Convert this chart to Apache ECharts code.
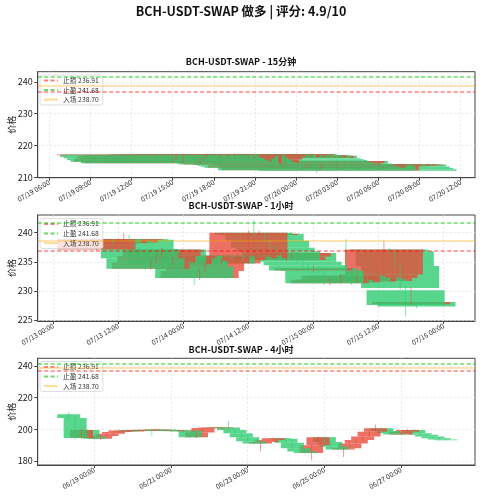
<!DOCTYPE html>
<html><head><meta charset="utf-8">
<script src="https://cdn.jsdelivr.net/npm/echarts@6/dist/echarts.min.js"></script>
<style>html,body{margin:0;padding:0;background:#fff}#c{width:482px;height:500px}</style>
</head><body><div id="c"></div><script>
// ---------- text ----------
const mainTitle = 'BCH-USDT-SWAP 做多 | 评分: 4.9/10';
const panelTitles = ['BCH-USDT-SWAP - 15分钟', 'BCH-USDT-SWAP - 1小时', 'BCH-USDT-SWAP - 4小时'];
const levelNames = ['止损 236.91', '止盈 241.68', '入场 238.70'];
const levelValues = [236.91, 241.68, 238.70];
const yAxisName = '价格';

// ---------- 15 minute candles (oldest first) ----------
const m15Start = '2024-07-19T13:45';
const m15StepHours = 0.25;
const m15Open = [216.95,217.15,216.4,216.0,215.4,214.9,215.9,216.7,214.4,216.9,216.2,215.5,214.8,214.5,215.6,216.5,217.2,216.8,217.1,216.4,217.0,216.6,217.2,216.9,217.3,216.9,216.6,216.2,216.9,216.1,216.8,216.0,215.7,215.4,215.0,214.6,214.3,214.0,214.4,215.1,214.3,213.9,213.6,213.3,213.0,213.8,214.1,213.6,212.2,213.6,214.0,213.5,214.0,213.6,214.1,213.7,214.0,213.4,212.9,212.5];
const m15Close = [217.15,216.4,216.0,215.4,214.9,215.9,216.7,214.4,216.9,216.2,215.5,214.8,214.5,215.6,216.5,217.2,216.8,217.1,216.4,217.0,216.6,217.2,216.9,217.3,216.9,216.6,216.2,216.9,216.1,216.8,216.0,215.7,215.4,215.0,214.6,214.3,214.0,214.4,215.1,214.3,213.9,213.6,213.3,213.0,213.8,214.1,213.6,212.2,213.6,214.0,213.5,214.0,213.6,214.1,213.7,214.0,213.4,212.9,212.5,212.1];
const m15High = [217.3,217.3,216.6,216.2,215.6,216.1,216.9,216.9,217.1,217.1,216.4,215.7,215.0,215.8,216.7,217.4,217.4,217.3,217.3,217.2,217.2,217.4,217.4,217.5,217.5,217.1,216.8,217.1,217.0,217.0,216.9,216.2,215.9,215.6,215.2,214.8,214.5,214.6,215.3,215.3,214.5,214.1,213.8,213.5,214.0,214.3,214.3,213.8,213.8,214.2,214.2,214.2,214.2,214.3,214.3,214.2,214.2,213.6,213.1,212.7];
const m15Low = [216.8,216.2,215.8,215.2,214.6,214.7,215.7,213.8,214.2,216.0,215.3,214.5,214.2,214.3,215.4,216.3,216.6,216.6,216.2,216.2,216.4,216.4,216.7,216.7,216.7,216.4,216.0,216.0,215.9,215.9,215.8,215.5,215.2,214.8,213.6,214.0,213.8,213.8,214.2,214.1,213.2,213.3,213.0,212.6,212.8,213.6,213.4,211.4,212.0,213.4,213.3,213.3,213.4,213.4,213.5,213.5,213.2,212.7,212.3,211.9];

// ---------- 1 hour candles ----------
const h1Start = '2024-07-13T08:00';
const h1StepHours = 1;
const h1Open = [237.1,238.9,238.2,238.6,238.3,238.8,238.9,238.8,237.2,235.6,233.8,234.9,236.0,237.1,234.6,235.6,236.0,235.2,234.2,232.2,233.4,234.8,235.9,234.7,235.3,235.9,235.6,236.1,235.6,240.0,239.6,239.8,238.6,237.4,236.8,235.3,235.9,236.5,235.0,234.4,233.5,233.9,233.5,231.3,231.9,231.5,232.6,232.2,231.6,232.3,232.0,231.7,232.2,232.8,237.1,236.8,234.3,230.1,227.7,228.1];
const h1Close = [238.9,238.2,238.6,238.3,238.8,238.9,238.8,237.2,235.6,233.8,234.9,236.0,237.1,234.6,235.6,236.0,235.2,234.2,232.2,233.4,234.8,235.9,234.7,235.3,235.9,235.6,236.1,235.6,240.0,239.6,239.8,238.6,237.4,236.8,235.3,235.9,236.5,235.0,234.4,233.5,233.9,233.5,231.3,231.9,231.5,232.6,232.2,231.6,232.3,232.0,231.7,232.2,232.8,237.1,236.8,234.3,230.5,227.6,228.1,227.3];
const h1High = [239.3,239.2,238.9,238.9,239.1,240.0,239.6,239.0,237.4,235.9,235.2,236.3,237.4,237.3,235.9,236.3,236.3,235.5,234.4,233.7,235.1,236.2,236.1,235.6,236.2,236.3,236.5,236.4,240.4,242.2,240.3,240.0,238.8,237.7,237.0,236.2,236.8,236.7,235.3,234.7,234.3,234.2,233.7,232.2,232.2,232.9,238.9,232.5,232.6,232.6,232.3,232.5,233.1,238.6,237.4,237.0,234.6,230.7,230.6,228.4];
const h1Low = [236.9,238.0,237.9,238.0,238.1,238.4,238.5,237.0,235.4,233.6,233.6,234.7,235.8,234.4,234.4,235.4,235.0,232.6,231.0,231.9,233.2,234.5,234.5,234.5,235.0,235.3,235.4,235.3,235.3,239.3,239.4,238.3,237.2,236.5,235.1,235.0,235.6,234.8,234.1,233.2,233.2,233.1,231.0,231.0,231.2,231.2,231.9,231.0,231.3,231.7,231.4,231.5,231.9,232.6,236.4,234.0,230.2,225.6,227.5,227.0];

// ---------- 4 hour candles ----------
const h4Start = '2024-06-18T08:00';
const h4StepHours = 4;
const h4Open = [209.5,207.2,194.5,199.6,195.5,194.0,195.8,197.2,198.3,199.2,198.6,199.6,199.0,199.8,199.2,199.9,198.9,199.4,198.8,199.3,195.0,198.0,200.8,201.2,200.9,201.1,199.6,197.6,195.0,192.5,191.0,192.0,193.3,194.3,194.0,191.5,188.0,186.0,185.0,190.0,195.0,192.0,189.0,187.2,188.0,191.0,193.3,195.5,198.5,200.7,199.0,197.5,196.8,198.5,199.6,197.6,196.5,195.5,194.3,193.5];
const h4Close = [207.2,194.5,199.6,195.5,194.0,195.8,197.2,198.3,199.2,198.6,199.6,199.0,199.8,199.2,199.9,198.9,199.4,198.8,199.3,195.0,198.0,200.8,201.2,200.9,201.1,199.6,197.6,195.0,192.5,191.0,192.0,193.3,194.3,194.0,191.5,188.0,186.0,185.0,190.0,195.0,192.0,189.0,187.2,188.0,191.0,193.3,195.5,198.5,200.7,199.0,197.5,196.8,198.5,199.6,197.6,196.5,195.5,194.3,193.5,193.2];
const h4High = [211.0,208.0,200.2,200.0,196.2,196.3,197.8,198.9,199.8,199.9,200.2,200.3,200.4,200.5,200.6,200.3,199.9,199.9,199.7,199.8,198.5,201.3,201.8,201.6,201.7,205.0,200.1,198.0,195.4,193.0,192.4,193.8,194.9,194.8,194.4,192.0,188.5,186.5,190.5,195.5,195.5,192.5,189.5,188.5,191.5,193.8,196.0,199.0,203.0,201.2,199.5,198.0,199.0,200.1,200.0,198.0,197.0,196.0,194.8,194.0];
const h4Low = [206.5,193.5,194.0,195.0,193.5,193.2,195.5,196.8,197.9,198.2,198.3,198.6,198.7,196.0,198.9,198.5,198.4,198.3,198.0,194.5,194.6,197.6,200.3,200.4,200.5,199.2,197.0,194.5,192.0,190.5,186.0,191.5,192.8,193.5,191.0,187.5,185.5,184.5,180.4,189.5,191.5,188.5,186.8,182.5,187.5,190.5,192.8,195.0,198.0,198.5,197.0,196.3,196.5,198.0,197.0,196.0,195.0,193.8,193.0,192.8];

// ---------- styling constants ----------
const ORIGIN = Date.UTC(2024, 5, 1);
const UP = '#e74c3c', DOWN = '#2ecc71';
const BODY_WIDTH_HOURS = 14.4; // 0.6 day
const FONT = '"Noto Sans CJK SC", "Noto Sans", sans-serif';
const levelColors = ['rgba(255,0,0,0.5)', 'rgba(0,200,0,0.6)', 'rgba(255,165,0,0.4)'];
const levelTypes = [[4, 2.5], [4, 2.5], 'solid'];

function toHours(s) {
  const [d, t] = s.split('T');
  const [Y, M, D] = d.split('-').map(Number);
  const [hh, mm] = t.split(':').map(Number);
  return (Date.UTC(Y, M - 1, D, hh, mm) - ORIGIN) / 3600000;
}
function fmt(h) {
  const d = new Date(ORIGIN + Math.round(h * 60) * 60000);
  const p = n => String(n).padStart(2, '0');
  return p(d.getUTCMonth() + 1) + '/' + p(d.getUTCDate()) + ' ' + p(d.getUTCHours()) + ':' + p(d.getUTCMinutes());
}

const panels = [
  {start: m15Start, step: m15StepHours, o: m15Open, c: m15Close, h: m15High, l: m15Low,
   xMin: 1157.154, xMax: 1189.043, xInt: 3, yMin: 209.88, yMax: 243.16, yInt: 10, top: 71.7, height: 106, titleTop: 57, legendTop: 75},
  {start: h1Start, step: h1StepHours, o: h1Open, c: h1Close, h: h1High, l: h1Low,
   xMin: 1005.13, xMax: 1085.8, xInt: 12, yMin: 224.83, yMax: 243.04, yInt: 5, top: 215, height: 106, titleTop: 201.5, legendTop: 218.5},
  {start: h4Start, step: h4StepHours, o: h4Open, c: h4Close, h: h4High, l: h4Low,
   xMin: 396.56, xMax: 670.3, xInt: 48, yMin: 177.47, yMax: 244.86, yInt: 20, top: 358.3, height: 106.7, titleTop: 345, legendTop: 361.5}
];

const gridLine = {show: true, showMinLine: false, showMaxLine: false,
                  lineStyle: {color: '#e2e2e2', width: 0.8, type: [2, 2]}};

const option = {
  animation: false,
  backgroundColor: '#fff',
  textStyle: {fontFamily: FONT},
  title: [{text: mainTitle, left: 'center', top: 4.5, padding: 0,
           textStyle: {fontSize: 12.5, fontWeight: 'bold', color: '#111', fontFamily: FONT}}]
    .concat(panels.map((p, i) => ({text: panelTitles[i], left: 'center', top: p.titleTop, padding: 0,
           textStyle: {fontSize: 9, fontWeight: 'bold', color: '#111', fontFamily: FONT}}))),
  grid: panels.map(p => ({left: 37.7, right: 7, top: p.top, height: p.height, show: true,
           containLabel: false, outerBoundsMode: 'none',
           borderColor: '#444', borderWidth: 1, backgroundColor: 'transparent'})),
  legend: panels.map(p => ({data: levelNames, orient: 'vertical', left: 40, top: p.legendTop,
           itemWidth: 14, itemHeight: 7, itemGap: 2.8, padding: [2, 4, 2, 3],
           backgroundColor: 'rgba(255,255,255,0.8)', borderColor: '#d5d5d5', borderWidth: 0.8, borderRadius: 2,
           selectedMode: false,
           itemStyle: {opacity: 0},
           textStyle: {fontSize: 6.8, color: '#333', fontFamily: FONT}})),
  xAxis: panels.map((p, i) => ({type: 'value', gridIndex: i, min: p.xMin, max: p.xMax,
           minInterval: p.xInt, maxInterval: p.xInt,
           axisLine: {show: true, lineStyle: {color: '#444'}},
           axisTick: {show: true, length: 3, lineStyle: {color: '#444'}},
           splitLine: gridLine,
           axisLabel: {rotate: 30, fontSize: 6.8, color: '#222', margin: 4, fontFamily: FONT,
             showMinLabel: false, showMaxLabel: false, formatter: v => fmt(v)}})),
  yAxis: panels.map((p, i) => ({type: 'value', gridIndex: i, min: p.yMin, max: p.yMax,
           minInterval: p.yInt, maxInterval: p.yInt,
           name: yAxisName, nameLocation: 'middle', nameGap: 22, nameMoveOverlap: false,
           nameTextStyle: {fontSize: 9, color: '#222', fontFamily: FONT},
           axisLine: {show: true, lineStyle: {color: '#444'}},
           axisTick: {show: true, length: 3.5, lineStyle: {color: '#444'}},
           splitLine: gridLine,
           axisLabel: {fontSize: 9, color: '#222', margin: 5, fontFamily: FONT,
             showMinLabel: false, showMaxLabel: false}})),
  series: []
};

panels.forEach((p, i) => {
  const t0 = toHours(p.start);
  const n = p.o.length;
  const times = p.o.map((_, k) => t0 + k * p.step);
  const data = [];
  // drawn newest first, so the oldest candle ends up on top
  for (let k = n - 1; k >= 0; k--) data.push([times[k], p.o[k], p.c[k], p.l[k], p.h[k], n - 1 - k]);
  option.series.push({
    type: 'custom', xAxisIndex: i, yAxisIndex: i, clip: true, z: 2,
    encode: {x: 0, y: [1, 2, 3, 4]},
    data: data,
    renderItem: function (params, api) {
      const t = api.value(0), o = api.value(1), c = api.value(2), lo = api.value(3), hi = api.value(4), ord = api.value(5);
      const color = c >= o ? UP : DOWN;
      const top = api.coord([t, Math.max(o, c)]);
      const bot = api.coord([t, Math.min(o, c)]);
      const w = api.size([BODY_WIDTH_HOURS, 0])[0];
      const ph = api.coord([t, hi]), pl = api.coord([t, lo]);
      return {type: 'group', children: [
        {type: 'rect', z2: ord, shape: {x: top[0] - w / 2, y: top[1], width: w, height: Math.max(bot[1] - top[1], 0.6)},
         style: {fill: color, opacity: 0.8}},
        {type: 'line', z2: 1000 + ord, shape: {x1: ph[0], y1: ph[1], x2: pl[0], y2: pl[1]},
         style: {stroke: color, lineWidth: 1, opacity: 0.55}}
      ]};
    }
  });
  levelNames.forEach((name, j) => {
    option.series.push({
      type: 'line', name: name, xAxisIndex: i, yAxisIndex: i, data: [], symbol: 'none', showSymbol: false, z: 3,
      lineStyle: {color: levelColors[j], type: levelTypes[j], width: 1.5},
      itemStyle: {color: levelColors[j]},
      markLine: {silent: true, symbol: ['none', 'none'], label: {show: false},
        lineStyle: {color: levelColors[j], type: levelTypes[j], width: 1.5},
        emphasis: {disabled: true},
        data: [{yAxis: levelValues[j]}]}
    });
  });
});

const chart = echarts.init(document.getElementById('c'));
chart.setOption(option);
</script></body></html>
